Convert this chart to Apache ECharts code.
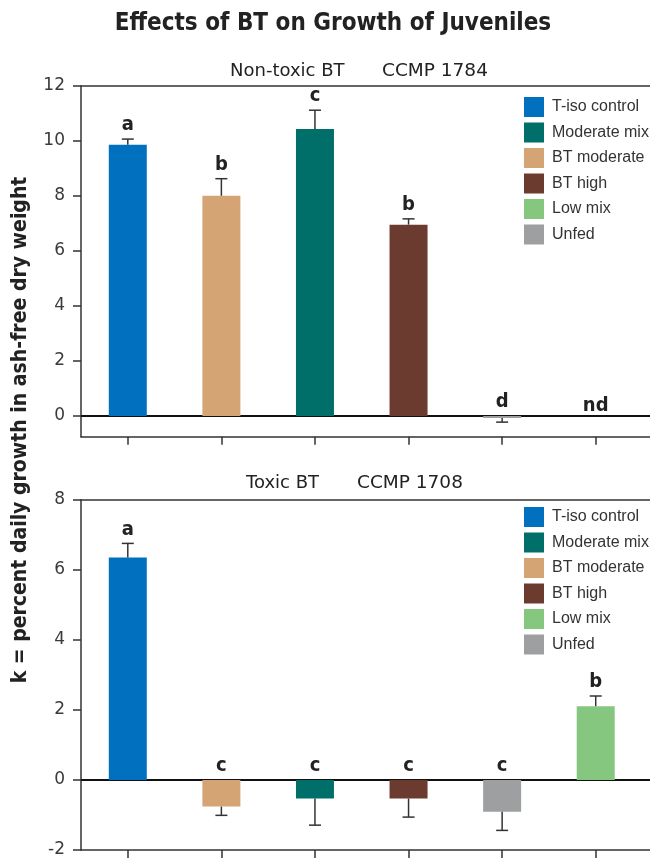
<!DOCTYPE html>
<html><head><meta charset="utf-8">
<script src="https://cdn.jsdelivr.net/npm/echarts@6/dist/echarts.min.js"></script>
<style>html,body{margin:0;padding:0;background:#fff}#c{width:650px;height:859px}</style>
</head><body><div id="c"></div>
<script>
// ---- data ----
const positions = ['T-iso control', 'BT moderate', 'Moderate mix', 'BT high', 'Unfed', 'Low mix'];
const legendOrder = ['T-iso control', 'Moderate mix', 'BT moderate', 'BT high', 'Low mix', 'Unfed'];
const seriesColors = ['#0070BF', '#006F6A', '#D5A474', '#6C3B2F', '#86C780', '#9E9FA0'];
const topValues = [9.86, 8.01, 10.44, 6.96, -0.07, null];
const topErrors = [0.21, 0.62, 0.68, 0.21, 0.15, null];
const topLetters = ['a', 'b', 'c', 'b', 'd', 'nd'];
const bottomValues = [6.36, -0.76, -0.53, -0.53, -0.91, 2.11];
const bottomErrors = [0.40, 0.25, 0.76, 0.53, 0.53, 0.29];
const bottomLetters = ['a', 'c', 'c', 'c', 'c', 'b'];
const topTicks = [0, 2, 4, 6, 8, 10, 12];
const bottomTicks = [-2, 0, 2, 4, 6, 8];
const mainTitle = 'Effects of BT on Growth of Juveniles';
const topSub = ['Non-toxic BT', 'CCMP 1784'];
const bottomSub = ['Toxic BT', 'CCMP 1708'];
const yTitle = 'k = percent daily growth in ash-free dry weight';

// ---- styles ----
const NARROW = '"Liberation Sans Narrow","Arial Narrow","DejaVu Sans Condensed",sans-serif';
const WIDE = '"DejaVu Sans",sans-serif';
const LEG = '"Liberation Sans",Arial,sans-serif';
const INK = '#333';

const chart = echarts.init(document.getElementById('c'), null, {renderer: 'canvas'});
const catIdx = positions.map((_, i) => i);

function xAxes(gridIndex) {
  return [
    {type: 'value', gridIndex, position: 'bottom', min: -0.5, max: 5.58,
     axisLine: {show: true, onZero: false, lineStyle: {color: INK, width: 1.5}},
     axisTick: {show: true, customValues: catIdx, length: 8, lineStyle: {color: INK, width: 1.5}},
     axisLabel: {show: false}, splitLine: {show: false}},
    {type: 'value', gridIndex, position: 'top', min: -0.5, max: 5.58,
     axisLine: {show: true, onZero: false, lineStyle: {color: INK, width: 1.5}},
     axisTick: {show: false}, axisLabel: {show: false}, splitLine: {show: false}}
  ];
}
function yAxis(gridIndex, min, max, ticks) {
  return {type: 'value', gridIndex, min, max,
    axisLine: {show: true, onZero: false, lineStyle: {color: INK, width: 1.5}},
    axisTick: {show: true, customValues: ticks, length: 8, lineStyle: {color: INK, width: 1.5}},
    axisLabel: {show: true, customValues: ticks, margin: 16, color: '#3a3a3a', fontFamily: WIDE, fontSize: 17},
    splitLine: {show: false}};
}

function barSeries(values, xAxisIndex, yAxisIndex) {
  return legendOrder.map((name, k) => {
    const idx = positions.indexOf(name);
    const v = values[idx];
    return {
      type: 'bar', name, xAxisIndex, yAxisIndex, barWidth: 38, barGap: '-100%',
      itemStyle: {color: seriesColors[k]}, z: 3,
      data: v === null ? [] : [[idx, v]]
    };
  });
}

function errSeries(values, errors, letters, xAxisIndex, yAxisIndex) {
  return {
    type: 'custom', xAxisIndex, yAxisIndex, z: 4, silent: true,
    encode: {x: 0, y: 1},
    data: catIdx.map(i => [i, values[i] === null ? 0 : values[i]]),
    markLine: {silent: true, symbol: 'none', label: {show: false},
      lineStyle: {color: '#111', width: 1.8, type: 'solid'}, data: [{yAxis: 0}], z: 2},
    renderItem: function (params, api) {
      const i = params.dataIndex;
      const v = values[i], e = errors[i];
      const base = api.coord([i, 0]);
      const children = [];
      let ay;
      if (v === null) {
        ay = base[1] - 10;
      } else {
        const end = v >= 0 ? v + e : v - e;
        const p0 = api.coord([i, v]);
        const p1 = api.coord([i, end]);
        children.push({type: 'line', shape: {x1: p0[0], y1: p0[1], x2: p1[0], y2: p1[1]},
          style: {stroke: INK, lineWidth: 1.5}});
        children.push({type: 'line', shape: {x1: p1[0] - 6, y1: p1[1], x2: p1[0] + 6, y2: p1[1]},
          style: {stroke: INK, lineWidth: 1.5}});
        ay = (v >= 0 ? p1[1] : base[1]) - 14;
      }
      children.push({type: 'text', x: base[0], y: ay,
        style: {text: letters[i], fill: '#222', font: 'bold 20px ' + NARROW, align: 'center', verticalAlign: 'middle'}});
      return {type: 'group', children};
    }
  };
}

function legend(top) {
  return {
    orient: 'vertical', left: 524, top, padding: 0, itemWidth: 20, itemHeight: 20, itemGap: 5.5,
    icon: 'rect', selectedMode: false, data: legendOrder,
    textStyle: {color: INK, fontFamily: LEG, fontSize: 16, padding: [0, 0, 0, 3]}
  };
}

const option = {
  animation: false,
  backgroundColor: '#fff',
  grid: [
    {left: 81, right: 0, top: 86, height: 350.7},
    {left: 81, right: 0, top: 500, height: 350}
  ],
  xAxis: [...xAxes(0), ...xAxes(1)],
  yAxis: [yAxis(0, -0.75, 12, topTicks), yAxis(1, -2, 8, bottomTicks)],
  legend: [legend(97), legend(507)],
  series: [
    ...barSeries(topValues, 0, 0),
    errSeries(topValues, topErrors, topLetters, 0, 0),
    ...barSeries(bottomValues, 2, 1),
    errSeries(bottomValues, bottomErrors, bottomLetters, 2, 1)
  ],
  graphic: [
    {type: 'text', x: 333, y: 24, style: {text: mainTitle, fill: '#222', font: 'bold 24px ' + NARROW, align: 'center', verticalAlign: 'middle'}},
    {type: 'text', x: 230, y: 71, style: {text: topSub[0], fill: '#222', font: '18px ' + WIDE, align: 'left', verticalAlign: 'middle'}},
    {type: 'text', x: 382, y: 71, style: {text: topSub[1], fill: '#222', font: '18.5px ' + WIDE, align: 'left', verticalAlign: 'middle'}},
    {type: 'text', x: 246, y: 483, style: {text: bottomSub[0], fill: '#222', font: '18px ' + WIDE, align: 'left', verticalAlign: 'middle'}},
    {type: 'text', x: 357, y: 483, style: {text: bottomSub[1], fill: '#222', font: '18.5px ' + WIDE, align: 'left', verticalAlign: 'middle'}},
    {type: 'text', x: 21, y: 430, rotation: Math.PI / 2, style: {text: yTitle, fill: '#222', font: 'bold 21px ' + NARROW, align: 'center', verticalAlign: 'middle'}}
  ]
};
chart.setOption(option);
</script>
</body></html>
